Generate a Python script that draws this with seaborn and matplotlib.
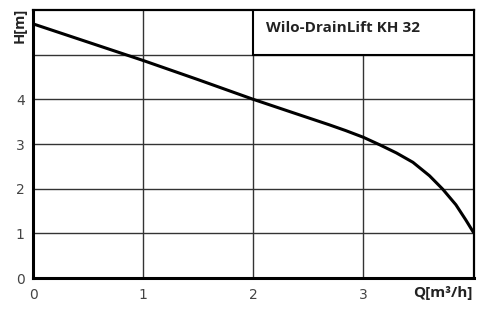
import matplotlib
matplotlib.use("Agg")
import matplotlib.pyplot as plt
import seaborn as sns
import pandas as pd
from matplotlib.patches import Rectangle

# Data
q_values = [0.0, 0.5, 1.0, 1.5, 2.0, 2.35, 2.69, 2.84, 3.0, 3.15, 3.3, 3.45, 3.6, 3.72, 3.84, 3.93, 4.0]
h_values = [5.69, 5.28, 4.87, 4.44, 4.0, 3.71, 3.43, 3.30, 3.15, 2.98, 2.80, 2.59, 2.29, 1.99, 1.64, 1.30, 1.02]
x_ticks = [0, 1, 2, 3]
x_tick_labels = ["0", "1", "2", "3"]
y_ticks = [0, 1, 2, 3, 4, 5]
y_tick_labels = ["0", "1", "2", "3", "4", ""]
title_text = "Wilo-DrainLift KH 32"
x_label = "Q[m³/h]"
y_label = "H[m]"

sns.set_style("white")
plt.rcParams["font.family"] = ["DejaVu Sans"]

df = pd.DataFrame({"Q": q_values, "H": h_values})

fig = plt.figure(figsize=(4.87, 3.15), dpi=100)
ax = fig.add_axes([33 / 487, 37 / 315, 440.5 / 487, 268 / 315])

sns.lineplot(data=df, x="Q", y="H", ax=ax, color="black", linewidth=2.2, zorder=5)

ax.set_xlim(0, 4)
ax.set_ylim(0, 6)
ax.set_xticks(x_ticks)
ax.set_xticklabels(x_tick_labels)
ax.set_yticks(y_ticks)
ax.set_yticklabels(y_tick_labels)
ax.tick_params(axis="both", length=0, labelsize=10, labelcolor="#444444")
ax.tick_params(axis="x", pad=7)
ax.tick_params(axis="y", pad=6)
ax.set_xlabel("")
ax.set_ylabel("")

ax.grid(True, color="#333333", linewidth=1.0)
ax.set_axisbelow(True)

for side in ["left", "bottom"]:
    ax.spines[side].set_linewidth(2.2)
    ax.spines[side].set_color("black")
for side in ["top", "right"]:
    ax.spines[side].set_linewidth(1.6)
    ax.spines[side].set_color("black")
    ax.spines[side].set_visible(True)

box = Rectangle((2, 5), 2, 1, facecolor="white", edgecolor="black", linewidth=1.5, zorder=3)
ax.add_patch(box)
ax.text(2.12, 5.6, title_text, fontsize=11, fontweight="bold", color="#222222",
        family=["Open Sans", "DejaVu Sans"], va="center", ha="left", zorder=6)

fig.text(473 / 487, 1 - 293 / 315, x_label, ha="right", va="center", fontsize=11,
         fontweight="bold", color="#222222", family=["Open Sans", "DejaVu Sans"])
fig.text(20 / 487, 1 - 25 / 315, y_label, ha="center", va="center", rotation=90, fontsize=10.5,
         fontweight="bold", color="#222222", family=["Open Sans", "DejaVu Sans"])

fig.savefig("out.png", dpi=100)
